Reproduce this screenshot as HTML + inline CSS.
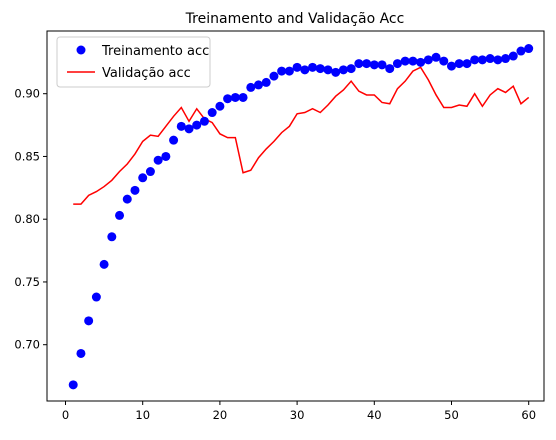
<!DOCTYPE html>
<html><head><meta charset="utf-8"><style>
body{margin:0;background:#fff}
svg text{font-family:"DejaVu Sans","Liberation Sans",sans-serif;fill:#000}
</style></head><body>
<svg id="chart" width="556" height="435" xmlns="http://www.w3.org/2000/svg">
<rect width="556" height="435" fill="#fff"/>
<text x="295" y="23" font-size="14" text-anchor="middle">Treinamento and Validação Acc</text>
<g id="marks"></g>
<rect x="47" y="31" width="497" height="370" fill="none" stroke="#000" stroke-width="1"/>
<g id="ticks"></g>
<g>
<rect x="57" y="37" width="153" height="50" rx="3" fill="#fff" fill-opacity="0.8" stroke="#ccc"/>
<circle cx="81" cy="50" r="4.5" fill="#0000ff"/>
<text x="102" y="55" font-size="13">Treinamento acc</text>
<line x1="67" y1="72" x2="95" y2="72" stroke="#ff0000" stroke-width="1.5"/>
<text x="102" y="77" font-size="13">Validação acc</text>
</g>
</svg>
<script>
const epochs = Array.from({length:60},(_,i)=>i+1);
const trainAcc = [.668,.693,.719,.738,.764,.786,.803,.816,.823,.833,.838,.847,.850,.863,.874,.872,.875,.878,.885,.890,.896,.897,.897,.905,.907,.909,.914,.918,.918,.921,.919,.921,.920,.919,.917,.919,.920,.924,.924,.923,.923,.920,.924,.926,.926,.925,.927,.929,.926,.922,.924,.924,.927,.927,.928,.927,.928,.930,.934,.936];
const valAcc = [.812,.812,.819,.822,.826,.831,.838,.844,.852,.862,.867,.866,.874,.882,.889,.878,.888,.880,.877,.868,.865,.865,.837,.839,.849,.856,.862,.869,.874,.884,.885,.888,.885,.891,.898,.903,.910,.902,.899,.899,.893,.892,.904,.910,.918,.921,.911,.899,.889,.889,.891,.890,.900,.890,.899,.904,.901,.906,.892,.897];
const xTicks = [0,10,20,30,40,50,60];
const yTicks = [0.70,0.75,0.80,0.85,0.90];
const NS="http://www.w3.org/2000/svg";
const xs = v => 65.5 + v*7.72;
const ys = v => 93.7 - (v-0.9)*1255;
const marks=document.getElementById('marks'), ticks=document.getElementById('ticks');
function mk(t,a,p){const e=document.createElementNS(NS,t);for(const k in a)e.setAttribute(k,a[k]);p.appendChild(e);return e;}
xTicks.forEach(t=>{
  const l=mk('line',{x1:xs(t),x2:xs(t),y1:401,y2:405,stroke:'#000'},ticks);
  
  
  const tx=mk('text',{x:xs(t),y:419,'font-size':11.5,'text-anchor':'middle'},ticks);tx.textContent=t;
  
  
});
yTicks.forEach(t=>{
  const l=mk('line',{x1:43,x2:47,y1:ys(t),y2:ys(t),stroke:'#000'},ticks);
  
  
  const tx=mk('text',{x:40,y:ys(t)+4,'font-size':11.5,'text-anchor':'end'},ticks);tx.textContent=t.toFixed(2);
  
  
});
const pl=mk('polyline',{points:epochs.map((e,i)=>xs(e)+','+ys(valAcc[i])).join(' '),fill:'none',stroke:'#ff0000','stroke-width':1.5},marks);


epochs.forEach((e,i)=>{
  const c=mk('circle',{cx:xs(e),cy:ys(trainAcc[i]),r:4.5,fill:'#0000ff'},marks);
  
  
});
</script>
</body></html>
